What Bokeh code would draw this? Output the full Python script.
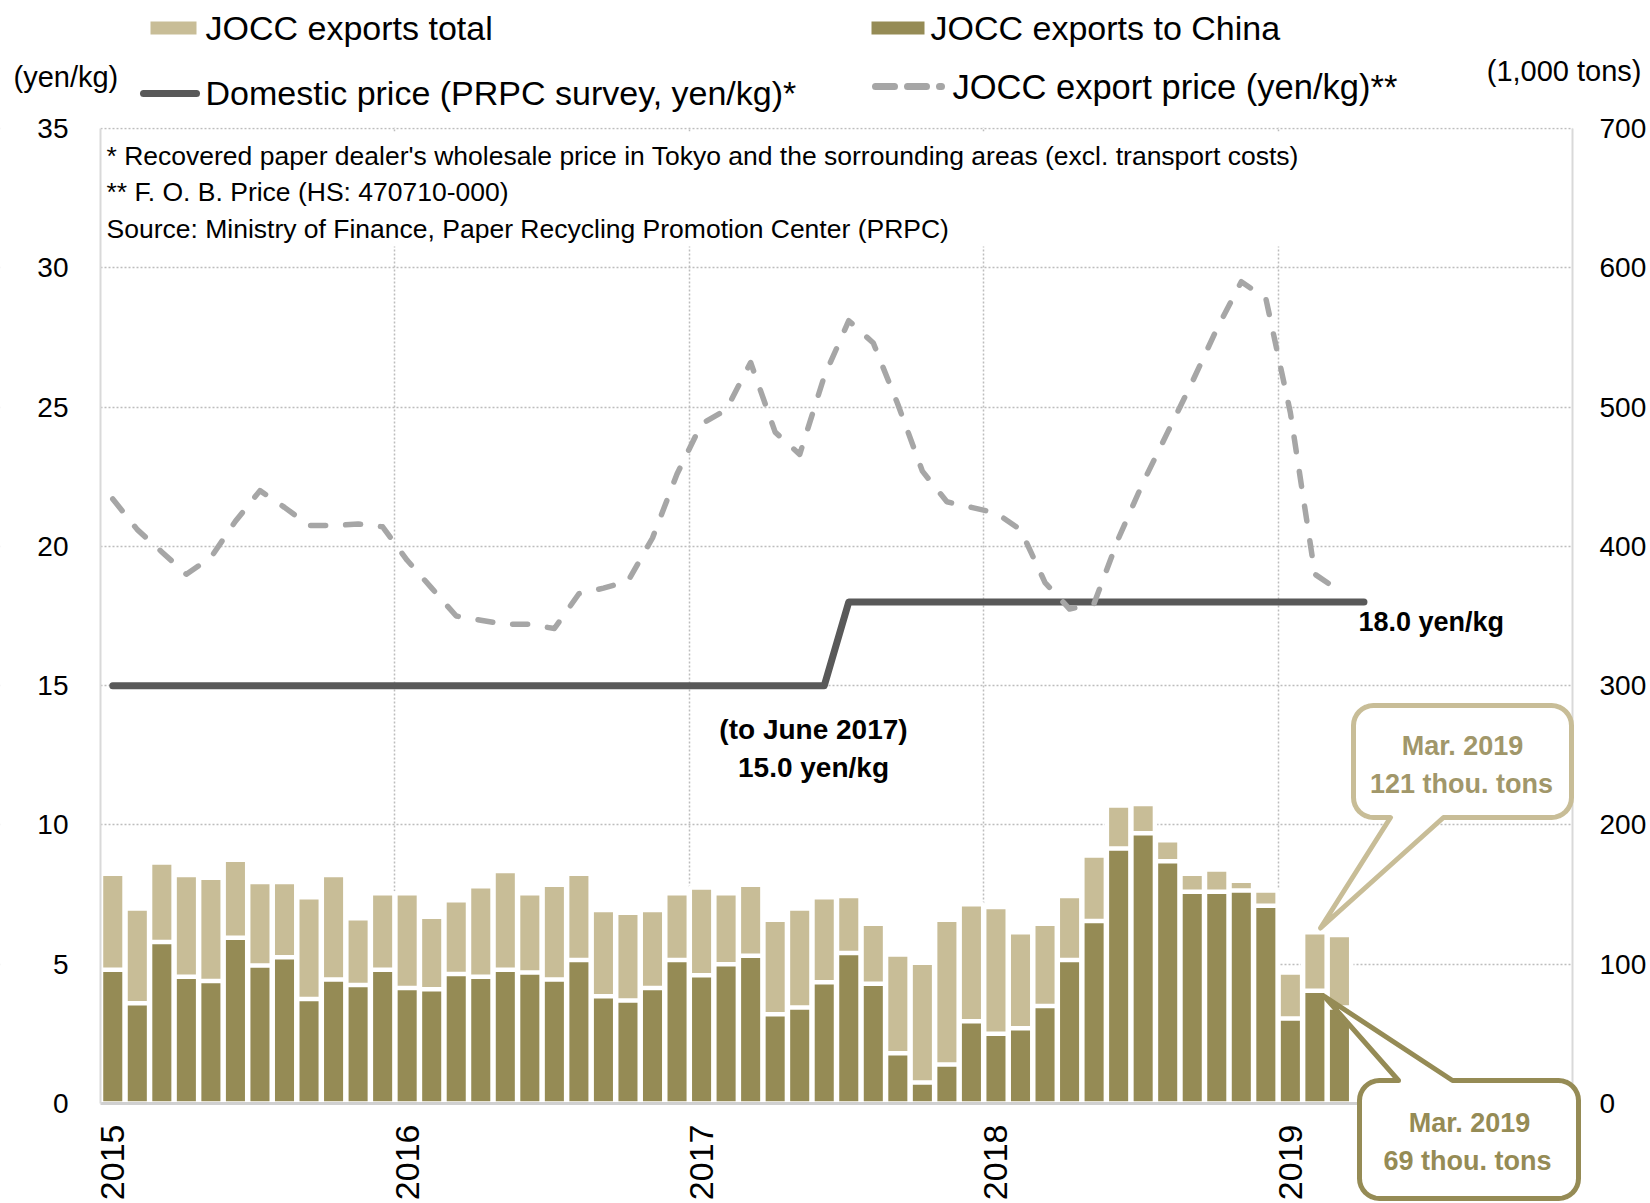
from math import pi

import numpy as np
from bokeh.embed import file_html
from bokeh.models import (Arrow, BoxAnnotation, ColumnDataSource, FixedTicker,
                          Label, LinearAxis, PolyAnnotation, Range1d)
from bokeh.plotting import figure
from bokeh.resources import INLINE

# ---------------------------------------------------------------- data
# monthly series, index 0 = Jan 2015
year_labels = ["2015", "2016", "2017", "2018", "2019"]
last_month_label = "Mar. 2019"

# JOCC exports (1,000 tons)
exports_total = [165, 140, 173, 164, 162, 175, 159, 159, 148, 164, 133, 151,
                 151, 134, 146, 156, 167, 151, 157, 165, 139, 137, 139, 151,
                 155, 151, 157, 132, 140, 148, 149, 129, 107, 101, 132, 143,
                 141, 123, 129, 149, 178, 214, 215, 189, 165, 168, 160, 153,
                 94, 123, 121]
exports_china = [96, 72, 116, 91, 88, 119, 99, 105, 75, 89, 85, 96,
                 83, 82, 93, 91, 96, 94, 89, 103, 77, 74, 83, 103,
                 92, 100, 106, 64, 69, 87, 108, 86, 36, 15, 28, 59,
                 50, 54, 70, 103, 131, 183, 194, 174, 152, 152, 153, 142,
                 61, 81, 69]

# JOCC export price, F.O.B. (yen/kg)
export_price = [21.7, 20.6, 19.8, 19.0, 19.6, 20.9, 22.0, 21.4, 20.75, 20.75, 20.8, 20.7,
                19.5, 18.5, 17.5, 17.35, 17.2, 17.2, 17.05, 18.3, 18.5, 18.75, 20.3, 22.6,
                24.4, 24.9, 26.6, 24.1, 23.3, 26.1, 28.1, 27.3, 25.1, 22.7, 21.6, 21.4,
                21.2, 20.6, 18.7, 17.75, 17.95, 20.3, 22.3, 24.1, 25.9, 27.8, 29.5, 28.9,
                24.8, 19.0, 18.4]

# domestic price, PRPC survey (yen/kg), Jan 2015 - Apr 2019
domestic_price = [15.0, 15.0, 15.0, 15.0, 15.0, 15.0, 15.0, 15.0, 15.0, 15.0, 15.0, 15.0,
                  15.0, 15.0, 15.0, 15.0, 15.0, 15.0, 15.0, 15.0, 15.0, 15.0, 15.0, 15.0,
                  15.0, 15.0, 15.0, 15.0, 15.0, 15.0, 18.0, 18.0, 18.0, 18.0, 18.0, 18.0,
                  18.0, 18.0, 18.0, 18.0, 18.0, 18.0, 18.0, 18.0, 18.0, 18.0, 18.0, 18.0,
                  18.0, 18.0, 18.0, 18.0]

# ---------------------------------------------------------------- styles
LIGHT = "#c8bd97"
DARK = "#958b55"
DOMESTIC = "#595959"
EXPORT = "#a6a6a6"
GRID = "#bdbdbd"
CALLOUT_TEXT = "#a1976a"
FONT = "Liberation Sans"

W, H = 1650, 1203
FL, FR, FT, FB = 100, 1572, 128, 1103          # chart area in pixels
N_MONTHS = 60
Y_MAX, TONS_MAX = 35, 700
TONS_PER_YEN = TONS_MAX / Y_MAX
PXM = (FR - FL) / N_MONTHS                      # pixels per month
PXY = (FB - FT) / Y_MAX                         # pixels per yen

# the drawing area spans the whole canvas; axes sit at fixed data locations
X_LO, X_HI = -0.5 - FL / PXM, N_MONTHS - 0.5 + (W - FR) / PXM
Y_LO, Y_HI = -(H - FB) / PXY, Y_MAX + FT / PXY


def X(px):
    """pixel column -> month coordinate"""
    return -0.5 + (px - FL) / PXM


def Y(py):
    """pixel row -> yen coordinate"""
    return (FB - py) / PXY


def to_px(x, yen):
    return FL + (x + 0.5) * PXM, FB - yen * PXY


# ---------------------------------------------------------------- figure
p = figure(width=W, height=H, output_backend="svg", toolbar_location=None,
           x_range=Range1d(X_LO, X_HI), y_range=Range1d(Y_LO, Y_HI),
           min_border=0)
p.outline_line_color = None
p.background_fill_color = "white"
p.border_fill_color = "white"
p.extra_y_ranges = {"tons": Range1d(Y_LO * TONS_PER_YEN, Y_HI * TONS_PER_YEN)}


def style_axis(ax, size, standoff, line_color, line_width):
    ax.axis_line_color = line_color
    ax.axis_line_width = line_width
    ax.major_tick_line_color = None
    ax.minor_tick_line_color = None
    ax.major_tick_in = 0
    ax.major_tick_out = 0
    ax.major_label_standoff = standoff
    ax.major_label_text_font = FONT
    ax.major_label_text_font_size = f"{size}px"
    ax.major_label_text_color = "black"


# left axis (yen/kg)
ya = p.yaxis[0]
ya.ticker = FixedTicker(ticks=list(range(0, Y_MAX + 1, 5)))
ya.fixed_location = -0.5
ya.bounds = (0, Y_MAX)
style_axis(ya, 28, 32, "#d9d9d9", 2)

# right axis (1,000 tons)
ra = LinearAxis(y_range_name="tons", ticker=FixedTicker(ticks=list(range(0, TONS_MAX + 1, 100))),
                fixed_location=N_MONTHS - 0.5, bounds=(0, TONS_MAX))
style_axis(ra, 28, 27, "#d9d9d9", 2)
p.add_layout(ra, "right")

# bottom axis: year labels at each January
xa = p.xaxis[0]
jan_ticks = [12 * i for i in range(len(year_labels))]
xa.ticker = FixedTicker(ticks=jan_ticks)
xa.major_label_overrides = {t: lab for t, lab in zip(jan_ticks, year_labels)}
xa.major_label_orientation = pi / 2
xa.fixed_location = 0
xa.bounds = (-0.5, N_MONTHS - 0.5)
style_axis(xa, 34, 21, "#d0d0d0", 3)

# dotted grid: horizontal every 5 yen, vertical at year boundaries
p.ygrid.ticker = FixedTicker(ticks=list(range(5, Y_MAX + 1, 5)))
p.xgrid.ticker = FixedTicker(ticks=[12 * i - 0.5 for i in range(1, len(year_labels))])
for g in (p.xgrid[0], p.ygrid[0]):
    g.grid_line_color = GRID
    g.grid_line_width = 1.5
    g.grid_line_dash = "2 2"


def blank(left, right, bottom, top):
    p.add_layout(BoxAnnotation(left=left, right=right, bottom=bottom, top=top,
                               fill_color="white", fill_alpha=1, line_color=None,
                               level="underlay"))


# keep the grid inside the chart area
PAD = 2.0
blank(X_LO - PAD, X(FL), Y_LO - PAD, Y_HI + PAD)
blank(X(FR), X_HI + PAD, Y_LO - PAD, Y_HI + PAD)
blank(X_LO - PAD, X_HI + PAD, Y(FT - 1), Y_HI + PAD)
blank(X_LO - PAD, X_HI + PAD, Y_LO - PAD, 0)
# white panel behind the footnotes
blank(X(FL + 1), X(FR - 2), Y(246), Y(131))

# ---------------------------------------------------------------- bars
src = ColumnDataSource(dict(m=list(range(len(exports_total))),
                            total=exports_total, china=exports_china))
p.vbar(x="m", top="total", width=0.96, source=src, y_range_name="tons",
       fill_color=LIGHT, line_color="white", line_width=4.5)
p.vbar(x="m", top="china", width=0.96, source=src, y_range_name="tons",
       fill_color=DARK, line_color="white", line_width=4.5)

# ---------------------------------------------------------------- lines
p.line(x=list(range(len(domestic_price))), y=domestic_price, line_color=DOMESTIC,
       line_width=7, line_join="round", line_cap="round")
p.line(x=list(range(len(export_price))), y=export_price, line_color=EXPORT,
       line_width=5.5, line_dash="15 20", line_join="round", line_cap="round")

# ---------------------------------------------------------------- text helpers


def label(px, py, text, align="left", size=26, bold=False, color="black"):
    p.add_layout(Label(x=X(px), y=Y(py), text=text, text_align=align,
                       text_baseline="middle", text_font=FONT,
                       text_font_size=f"{size}px", text_color=color,
                       text_font_style="bold" if bold else "normal"))


# footnotes
label(106, 155, "*  Recovered paper dealer's wholesale price in Tokyo and the sorrounding areas (excl. transport costs)", size=26.5)
label(106, 191, "** F. O. B. Price (HS: 470710-000)", size=26.5)
label(106, 228, "Source: Ministry of Finance, Paper Recycling Promotion Center (PRPC)", size=26.5)

# price level notes
label(813, 729, "(to June 2017)", align="center", size=28, bold=True)
label(813, 767, f"{domestic_price[0]:.1f} yen/kg", align="center", size=28, bold=True)
label(1358, 621, f"{domestic_price[-1]:.1f} yen/kg", size=27, bold=True)

# axis units
label(13, 76, "(yen/kg)", size=29)
label(1641, 70, "(1,000 tons)", align="right", size=29)

# ---------------------------------------------------------------- legend
p.add_layout(BoxAnnotation(left=X(150), right=X(196), top=Y(21), bottom=Y(34),
                           fill_color=LIGHT, fill_alpha=1, line_color=None))
p.add_layout(BoxAnnotation(left=X(871), right=X(924), top=Y(21), bottom=Y(34),
                           fill_color=DARK, fill_alpha=1, line_color=None))
p.add_layout(Arrow(end=None, x_start=X(143), y_start=Y(93), x_end=X(196), y_end=Y(93),
                   line_color=DOMESTIC, line_width=7, line_cap="round"))
p.add_layout(Arrow(end=None, x_start=X(875), y_start=Y(86), x_end=X(941), y_end=Y(86),
                   line_color=EXPORT, line_width=7, line_cap="round", line_dash="19 13"))
label(205, 27, "JOCC exports total", size=34)
label(930, 27, "JOCC exports to China", size=34)
label(205, 92, "Domestic price (PRPC survey, yen/kg)*", size=34)
label(952, 86, "JOCC export price (yen/kg)**", size=34.5)

# ---------------------------------------------------------------- callouts


def callout_shape(x0, y0, x1, y1, r, base_a, base_b, tip, side):
    pts = []

    def arc(cx, cy, a0, a1):
        for t in np.linspace(a0, a1, 9):
            pts.append((cx + r * np.cos(t), cy + r * np.sin(t)))

    arc(x0 + r, y0 + r, pi, 1.5 * pi)
    if side == "top":
        pts += [(base_a, y0), tip, (base_b, y0)]
    arc(x1 - r, y0 + r, 1.5 * pi, 2 * pi)
    arc(x1 - r, y1 - r, 0, 0.5 * pi)
    if side == "bottom":
        pts += [(base_b, y1), tip, (base_a, y1)]
    arc(x0 + r, y1 - r, 0.5 * pi, pi)
    return [X(a) for a, _ in pts], [Y(b) for _, b in pts]


last = len(exports_total) - 1
tip_total = to_px(last - 0.77, (exports_total[last] + 5) / TONS_PER_YEN)
tip_china = to_px(last - 0.62, (exports_china[last] + 8) / TONS_PER_YEN)

xs, ys = callout_shape(1353, 705, 1571, 817, 20, 1390, 1443, tip_total, "bottom")
p.add_layout(PolyAnnotation(xs=xs, ys=ys, fill_color="white", fill_alpha=1,
                            line_color=LIGHT, line_alpha=1, line_width=5, line_join="round"))
xs, ys = callout_shape(1359, 1080, 1578, 1198, 20, 1398, 1452, tip_china, "top")
p.add_layout(PolyAnnotation(xs=xs, ys=ys, fill_color="white", fill_alpha=1,
                            line_color=DARK, line_alpha=1, line_width=5, line_join="round"))

label(1462, 745, last_month_label, align="center", size=27, bold=True, color=CALLOUT_TEXT)
label(1461, 783, f"{exports_total[last]} thou. tons", align="center", size=27,
      bold=True, color=CALLOUT_TEXT)
label(1469, 1122, last_month_label, align="center", size=27, bold=True, color=DARK)
label(1467, 1160, f"{exports_china[last]} thou. tons", align="center", size=27,
      bold=True, color=DARK)

open("out.html", "w").write(file_html(p, INLINE))
